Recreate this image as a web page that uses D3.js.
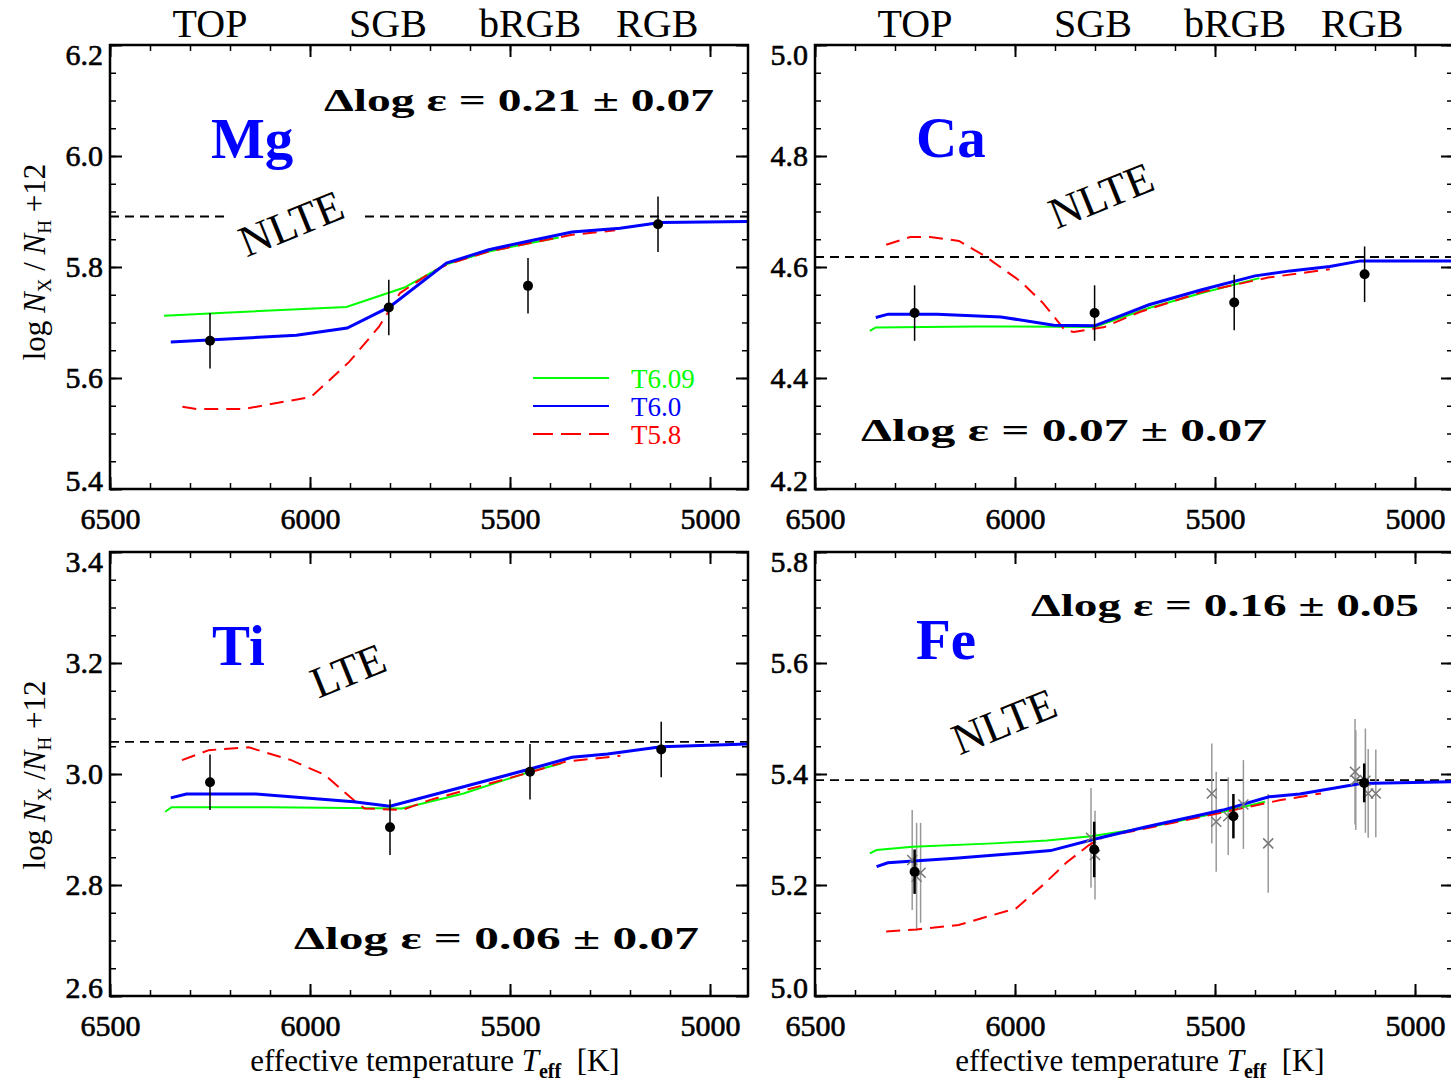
<!DOCTYPE html>
<html><head><meta charset="utf-8">
<script src="https://cdn.jsdelivr.net/npm/d3@7"></script>
<style>
body{margin:0;background:#fff}
svg{display:block}
text{font-family:"Liberation Serif","Times New Roman",serif}
</style>
</head><body>
<svg id="c" width="1451" height="1082"></svg>
<script>
// ---------------- DATA ----------------
const seriesNames = ["T6.09","T6.0","T5.8"];
const seriesColors = ["#00ff00","#0000ff","#ff0000"];
const stageNames = ["TOP","SGB","bRGB","RGB"];
const stageTemps = [6250,5805,5450,5132];
const xMajorTicks = [6500,6000,5500,5000];

// Mg
const mgTicks = [5.4,5.6,5.8,6.0,6.2];
const mgRef = 5.891;
const mgT609 = [[6365,5.712],[6200,5.718],[5909,5.728],[5764,5.763],[5659,5.805],[5553,5.828],[5458,5.842],[5378,5.853]];
const mgT60  = [[6348,5.665],[6034,5.677],[5907,5.690],[5801,5.728],[5659,5.807],[5553,5.831],[5458,5.846],[5345,5.863],[5225,5.870],[5124,5.880],[4905,5.882]];
const mgT58  = [[6319,5.548],[6282,5.544],[6166,5.544],[5997,5.566],[5902,5.629],[5828,5.692],[5775,5.753],[5700,5.789],[5659,5.804],[5553,5.828],[5458,5.842],[5345,5.858],[5237,5.866]];
const mgObsT = [6250,5803,5455,5130];
const mgObsV = [5.667,5.727,5.766,5.877];
const mgObsE = [0.05,0.05,0.05,0.05];

// Ca
const caTicks = [4.2,4.4,4.6,4.8,5.0];
const caRef = 4.618;
const caT609 = [[6363,4.485],[6348,4.491],[6100,4.493],[5801,4.492],[5665,4.526],[5533,4.553],[5389,4.580]];
const caT60  = [[6348,4.509],[6317,4.515],[6195,4.515],[6035,4.510],[5903,4.495],[5801,4.494],[5665,4.532],[5533,4.559],[5400,4.584],[5312,4.593],[5213,4.601],[5136,4.611],[4905,4.611]];
const caT58  = [[6322,4.640],[6262,4.654],[6212,4.654],[6140,4.647],[6074,4.619],[5986,4.574],[5930,4.535],[5875,4.486],[5853,4.483],[5776,4.492],[5688,4.519],[5533,4.555],[5367,4.581],[5213,4.596]];
const caObsT = [6251,5801,5452,5126];
const caObsV = [4.517,4.517,4.536,4.587];
const caObsE = [0.05,0.05,0.05,0.05];

// Ti
const tiTicks = [2.6,2.8,3.0,3.2,3.4];
const tiRef = 3.058;
const tiT609 = [[6362,2.932],[6346,2.940],[6100,2.940],[5770,2.938],[5616,2.965],[5450,3.004],[5372,3.019]];
const tiT60  = [[6348,2.957],[6309,2.964],[6135,2.964],[5891,2.950],[5800,2.942],[5616,2.977],[5450,3.009],[5345,3.030],[5256,3.036],[5122,3.049],[4905,3.054]];
const tiT58  = [[6320,3.025],[6253,3.043],[6153,3.048],[6047,3.025],[5962,2.998],[5891,2.953],[5864,2.938],[5770,2.935],[5701,2.953],[5450,3.003],[5362,3.022],[5224,3.033]];
const tiObsT = [6250,5800,5450,5122];
const tiObsV = [2.985,2.904,3.004,3.044];
const tiObsE = [0.05,0.05,0.05,0.05];

// Fe
const feTicks = [5.0,5.2,5.4,5.6,5.8];
const feRef = 5.389;
const feT609 = [[6363,5.257],[6346,5.263],[6256,5.269],[6054,5.275],[5920,5.280],[5810,5.288],[5671,5.303],[5480,5.332],[5375,5.350]];
const feT60  = [[6346,5.233],[6318,5.240],[6150,5.248],[5911,5.262],[5805,5.282],[5671,5.305],[5480,5.335],[5365,5.359],[5288,5.364],[5135,5.383],[4905,5.386]];
const feT58  = [[6322,5.116],[6246,5.120],[6141,5.128],[5997,5.158],[5930,5.200],[5872,5.240],[5815,5.272],[5777,5.287],[5671,5.302],[5480,5.331],[5336,5.353],[5235,5.365]];
const feObsT = [6251,5802,5454,5127];
const feObsV = [5.224,5.264,5.324,5.384];
const feObsE = [0.04,0.05,0.04,0.035];
const feStarT = [6257,6246,6236,5810,5800,5508,5497,5467,5429,5367,5150,5148,5124,5117,5098];
const feStarV = [5.245,5.215,5.222,5.285,5.254,5.365,5.314,5.324,5.345,5.275,5.404,5.389,5.388,5.365,5.365];
const feStarE = [0.09,0.097,0.09,0.09,0.08,0.09,0.09,0.07,0.08,0.089,0.095,0.09,0.094,0.08,0.079];

// ---------------- LAYOUT ----------------
const W = 638, H = 444;
const xDomain = [6500, 4905];
const panels = [
  {name:"Mg", ox:110, oy:45, ticks:mgTicks, ref:mgRef, series:[mgT609,mgT60,mgT58], obsT:mgObsT, obsV:mgObsV, obsE:mgObsE,
   dText:"Δlog ε = 0.21 ± 0.07", dPos:[214,66,390], elPos:[101,113], regime:"NLTE", regPos:[181,178], regBg:true, legend:true, top:true},
  {name:"Ca", ox:815, oy:45, ticks:caTicks, ref:caRef, series:[caT609,caT60,caT58], obsT:caObsT, obsV:caObsV, obsE:caObsE,
   dText:"Δlog ε = 0.07 ± 0.07", dPos:[46,396,406], elPos:[101,112], regime:"NLTE", regPos:[286,150], top:true},
  {name:"Ti", ox:110, oy:552, ticks:tiTicks, ref:tiRef, series:[tiT609,tiT60,tiT58], obsT:tiObsT, obsV:tiObsV, obsE:tiObsE,
   dText:"Δlog ε = 0.06 ± 0.07", dPos:[184,397,405], elPos:[102,113], regime:"LTE", regPos:[238,118], bottom:true},
  {name:"Fe", ox:815, oy:552, ticks:feTicks, ref:feRef, series:[feT609,feT60,feT58], obsT:feObsT, obsV:feObsV, obsE:feObsE,
   stars:{T:feStarT, V:feStarV, E:feStarE},
   dText:"Δlog ε = 0.16 ± 0.05", dPos:[216,64,388], elPos:[101,107], regime:"NLTE", regPos:[189,169], bottom:true, thickObs:true}
];

const svg = d3.select("#c");
const serifFont = '"Liberation Serif","Times New Roman",serif';

panels.forEach((p, i) => {
  const g = svg.append("g").attr("transform", `translate(${p.ox},${p.oy})`);
  const x = d3.scaleLinear().domain(xDomain).range([0, W]);
  const yDom = [p.ticks[0], p.ticks[p.ticks.length-1]];
  const y = d3.scaleLinear().domain(yDom).range([H, 0]);
  const clipId = "clip" + i;
  g.append("clipPath").attr("id", clipId).append("rect").attr("width", W).attr("height", H);
  const plot = g.append("g").attr("clip-path", `url(#${clipId})`);

  // reference dashed line
  plot.append("line").attr("x1", 0).attr("x2", W).attr("y1", y(p.ref)).attr("y2", y(p.ref))
    .attr("stroke", "#000").attr("stroke-width", 1.8).attr("stroke-dasharray", "9,6");

  // regime label (NLTE / LTE)
  const reg = plot.append("g").attr("transform", `translate(${p.regPos[0]},${p.regPos[1]}) rotate(-22)`);
  if (p.regBg) reg.append("rect").attr("x", -96).attr("y", -30).attr("width", 166).attr("height", 60).attr("fill", "#fff");
  reg.append("text").attr("text-anchor", "middle").attr("dy", "0.35em").attr("font-size", 44).text(p.regime);

  // star error bars (gray)
  if (p.stars) {
    const s = p.stars;
    const idx = d3.range(s.T.length);
    plot.selectAll(".sbar").data(idx).join("line")
      .attr("x1", k => x(s.T[k])).attr("x2", k => x(s.T[k]))
      .attr("y1", k => y(s.V[k] - s.E[k])).attr("y2", k => y(s.V[k] + s.E[k]))
      .attr("stroke", "#999").attr("stroke-width", 1.5);
  }

  // model curves
  const line = d3.line().x(d => x(d[0])).y(d => y(d[1]));
  const order = [0, 2, 1];
  const widths = [2, 3, 2];
  order.forEach(k => {
    plot.append("path").datum(p.series[k]).attr("d", line).attr("fill", "none")
      .attr("stroke", seriesColors[k]).attr("stroke-width", widths[k])
      .attr("stroke-dasharray", k === 2 ? "14,8" : null);
  });

  // star crosses
  if (p.stars) {
    const s = p.stars;
    const idx = d3.range(s.T.length);
    plot.selectAll(".scross").data(idx).join("path")
      .attr("transform", k => `translate(${x(s.T[k])},${y(s.V[k])})`)
      .attr("d", "M-5,-5L5,5M-5,5L5,-5").attr("stroke", "#777").attr("stroke-width", 1.5).attr("fill", "none");
  }

  // observed points
  const oi = d3.range(p.obsT.length);
  plot.selectAll(".ebar").data(oi).join("line")
    .attr("x1", k => x(p.obsT[k])).attr("x2", k => x(p.obsT[k]))
    .attr("y1", k => y(p.obsV[k] - p.obsE[k])).attr("y2", k => y(p.obsV[k] + p.obsE[k]))
    .attr("stroke", "#000").attr("stroke-width", p.thickObs ? 2.5 : 1.5);
  plot.selectAll(".dot").data(oi).join("circle")
    .attr("cx", k => x(p.obsT[k])).attr("cy", k => y(p.obsV[k])).attr("r", 5).attr("fill", "#000");

  // axes
  const styleAxis = (ag, w) => {
    ag.select(".domain").remove();
    ag.selectAll("line").attr("stroke", "#000").attr("stroke-width", w);
  };
  const styleLabels = sel => sel.attr("font-family", serifFont).attr("font-size", 30).attr("fill", "#000")
    .attr("stroke", "#000").attr("stroke-width", 0.6);
  const xMinor = d3.range(6500, 4900, -100);
  const yMinor = d3.range(Math.round(yDom[0]*100), Math.round(yDom[1]*100)+1, 5).map(v => v/100);

  const bx = g.append("g").attr("transform", `translate(0,${H})`)
    .call(d3.axisBottom(x).tickValues(xMajorTicks).tickSize(-12).tickSizeOuter(0).tickPadding(19).tickFormat(d3.format("d")));
  styleAxis(bx, 2);
  styleLabels(bx.selectAll("text"));
  const bxm = g.append("g").attr("transform", `translate(0,${H})`)
    .call(d3.axisBottom(x).tickValues(xMinor).tickSize(-6).tickSizeOuter(0).tickFormat(""));
  styleAxis(bxm, 1.5);
  const tx = g.append("g").call(d3.axisTop(x).tickValues(xMajorTicks).tickSize(-12).tickSizeOuter(0).tickFormat(""));
  styleAxis(tx, 2);
  const txm = g.append("g").call(d3.axisTop(x).tickValues(xMinor).tickSize(-6).tickSizeOuter(0).tickFormat(""));
  styleAxis(txm, 1.5);

  const ly = g.append("g").call(d3.axisLeft(y).tickValues(p.ticks).tickSize(-12).tickSizeOuter(0).tickPadding(7).tickFormat(d3.format(".1f")));
  styleAxis(ly, 2);
  styleLabels(ly.selectAll("text"));
  ly.selectAll("text").attr("y", d => { const pos = y(d); const want = Math.max(10, Math.min(H - 8, pos)); return want - pos; });
  const lym = g.append("g").call(d3.axisLeft(y).tickValues(yMinor).tickSize(-6).tickSizeOuter(0).tickFormat(""));
  styleAxis(lym, 1.5);
  const ry = g.append("g").attr("transform", `translate(${W},0)`).call(d3.axisRight(y).tickValues(p.ticks).tickSize(-12).tickSizeOuter(0).tickFormat(""));
  styleAxis(ry, 2);
  const rym = g.append("g").attr("transform", `translate(${W},0)`).call(d3.axisRight(y).tickValues(yMinor).tickSize(-6).tickSizeOuter(0).tickFormat(""));
  styleAxis(rym, 1.5);

  // frame
  g.append("rect").attr("width", W).attr("height", H).attr("fill", "none").attr("stroke", "#000").attr("stroke-width", 2.5);

  // element label
  g.append("text").attr("x", p.elPos[0]).attr("y", p.elPos[1]).attr("font-size", 57).attr("font-weight", "bold")
    .attr("fill", "#0000ff").text(p.name);

  // delta text
  g.append("text").attr("x", p.dPos[0]).attr("y", p.dPos[1])
    .attr("font-family", '"DejaVu Serif",serif').attr("font-weight", "bold").attr("font-size", 31)
    .attr("textLength", p.dPos[2]).attr("lengthAdjust", "spacingAndGlyphs").attr("fill", "#000").text(p.dText);

  // legend
  if (p.legend) {
    const lg = g.append("g").attr("transform", "translate(423,333)");
    seriesNames.forEach((n, k) => {
      lg.append("line").attr("x1", 0).attr("x2", 76).attr("y1", k*28).attr("y2", k*28)
        .attr("stroke", seriesColors[k]).attr("stroke-width", 2).attr("stroke-dasharray", k === 2 ? "20,8" : null);
      lg.append("text").attr("x", 98).attr("y", k*28 + 10).attr("font-size", 27).attr("fill", seriesColors[k]).text(n);
    });
  }

  // stage labels on top
  if (p.top) {
    stageNames.forEach((n, k) => {
      g.append("text").attr("x", x(stageTemps[k])).attr("y", -8).attr("text-anchor", "middle")
        .attr("font-size", 40).attr("fill", "#000").text(n);
    });
  }

  // x title
  if (p.bottom) {
    const t = g.append("text").attr("x", W/2 + 6).attr("y", H + 75).attr("text-anchor", "middle")
      .attr("font-size", 31).attr("fill", "#000");
    t.append("tspan").text("effective temperature ");
    t.append("tspan").attr("font-style", "italic").text("T");
    t.append("tspan").attr("font-size", 20).attr("font-weight", "bold").attr("dy", 7).text("eff");
    t.append("tspan").attr("dy", -7).text("\u00a0\u00a0[K]");
  }
});

// y titles (left column)
const yTitles = [{cy:262, slash:"\u00a0/\u00a0"}, {cy:775, slash:"\u00a0/"}];
yTitles.forEach(o => {
  const t = svg.append("text").attr("transform", `translate(45,${o.cy}) rotate(-90)`).attr("text-anchor", "middle")
    .attr("font-size", 31).attr("fill", "#000");
  t.append("tspan").text("log\u00a0");
  t.append("tspan").attr("font-style", "italic").text("N");
  t.append("tspan").attr("font-size", 19).attr("dy", 6).text("X");
  t.append("tspan").attr("dy", -6).text(o.slash);
  t.append("tspan").attr("font-style", "italic").text("N");
  t.append("tspan").attr("font-size", 19).attr("dy", 6).text("H");
  t.append("tspan").attr("dy", -6).text("\u00a0+12");
});
</script>
</body></html>
